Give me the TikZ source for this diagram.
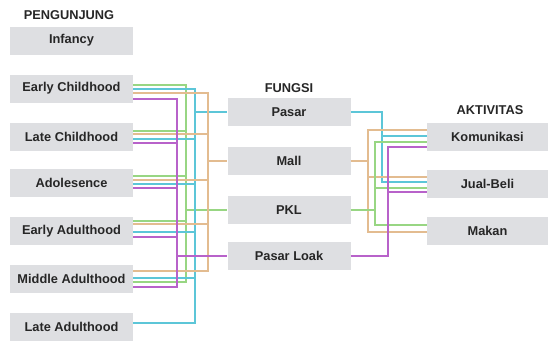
\documentclass[tikz,border=0pt]{standalone}
\usepackage{fontspec}
\setmainfont{Liberation Sans}
\definecolor{boxgray}{HTML}{DEDFE2}
\definecolor{txt}{HTML}{262626}
\definecolor{lgreen}{HTML}{98D683}
\definecolor{lcyan}{HTML}{5CC6D8}
\definecolor{lorange}{HTML}{E3BC90}
\definecolor{lpurple}{HTML}{B862CA}
\begin{document}
\begin{tikzpicture}[x=0.75pt,y=-0.75pt,
  lbl/.style={text=txt,font=\fontsize{9.6}{11}\selectfont\bfseries,inner sep=0pt},
  box/.style={lbl,fill=boxgray,minimum height=21pt,minimum width=92.25pt},
  rbox/.style={box,minimum width=90.75pt},
  conn/.style={line width=0.8pt},
  gn/.style={conn,draw=lgreen},
  cy/.style={conn,draw=lcyan},
  og/.style={conn,draw=lorange},
  pu/.style={conn,draw=lpurple}]
\useasboundingbox (0,0) rectangle (548,340);
% titles
\node[lbl] (t1) at (69,15) {PENGUNJUNG};
\node[lbl] (t2) at (289,88) {FUNGSI};
\node[lbl] (t3) at (490,110) {AKTIVITAS};
% left boxes
\node[box] (inf) at (71.5,40.5) {Infancy};
\node[box] (ec) at (71.5,88.5) {Early Childhood};
\node[box] (lc) at (71.5,136.5) {Late Childhood};
\node[box] (ad) at (71.5,182.5) {Adolesence};
\node[box] (ea) at (71.5,231) {Early Adulthood};
\node[box] (ma) at (71.5,279) {Middle Adulthood};
\node[box] (la) at (71.5,326.5) {Late Adulthood};
% middle boxes
\node[box] (ps) at (289,112) {Pasar};
\node[box] (ml) at (289,161) {Mall};
\node[box] (pk) at (289,210) {PKL};
\node[box] (pl) at (289,256) {Pasar Loak};
% right boxes
\node[rbox] (ko) at (487.5,136.5) {Komunikasi};
\node[rbox] (jb) at (487.5,184) {Jual-Beli};
\node[rbox] (mk) at (487.5,230.5) {Makan};
% bus coordinates
\coordinate (pB) at (177,0);
\coordinate (gB) at (186,0);
\coordinate (cB) at (195,0);
\coordinate (oB) at (208,0);
\coordinate (oR) at (368,0);
\coordinate (gR) at (375,0);
\coordinate (cR) at (382,0);
\coordinate (pR) at (388,0);
% left -> middle
\foreach \n/\y in {ec/85,lc/131,ad/176,ea/221,ma/282}
  \draw[gn] (\n.east |- 0,\y) -| (gB |- pk.west) -- (pk.west);
\foreach \n/\y in {ec/89,lc/139,ad/184,ea/232,ma/278,la/323}
  \draw[cy] (\n.east |- 0,\y) -| (cB |- ps.west) -- (ps.west);
\foreach \n/\y in {ec/93,lc/134,ad/180,ea/224,ma/271}
  \draw[og] (\n.east |- 0,\y) -| (oB |- ml.west) -- (ml.west);
\foreach \n/\y in {ec/99,lc/143,ad/188,ea/237,ma/287}
  \draw[pu] (\n.east |- 0,\y) -| (pB |- pl.west) -- (pl.west);
% middle -> right
\draw[cy] (ps.east) -| (cR |- 0,136) -- (ko.west |- 0,136);
\draw[cy] (ps.east) -| (cR |- 0,182) -- (jb.west |- 0,182);
\draw[og] (ml.east) -| (oR |- 0,130) -- (ko.west |- 0,130);
\draw[og] (ml.east) -| (oR |- 0,177) -- (jb.west |- 0,177);
\draw[og] (ml.east) -| (oR |- 0,232) -- (mk.west |- 0,232);
\draw[gn] (pk.east) -| (gR |- 0,142) -- (ko.west |- 0,142);
\draw[gn] (pk.east) -| (gR |- 0,188) -- (jb.west |- 0,188);
\draw[gn] (pk.east) -| (gR |- 0,225) -- (mk.west |- 0,225);
\draw[pu] (pl.east) -| (pR |- 0,147) -- (ko.west |- 0,147);
\draw[pu] (pl.east) -| (pR |- 0,192) -- (jb.west |- 0,192);
\end{tikzpicture}
\end{document}
